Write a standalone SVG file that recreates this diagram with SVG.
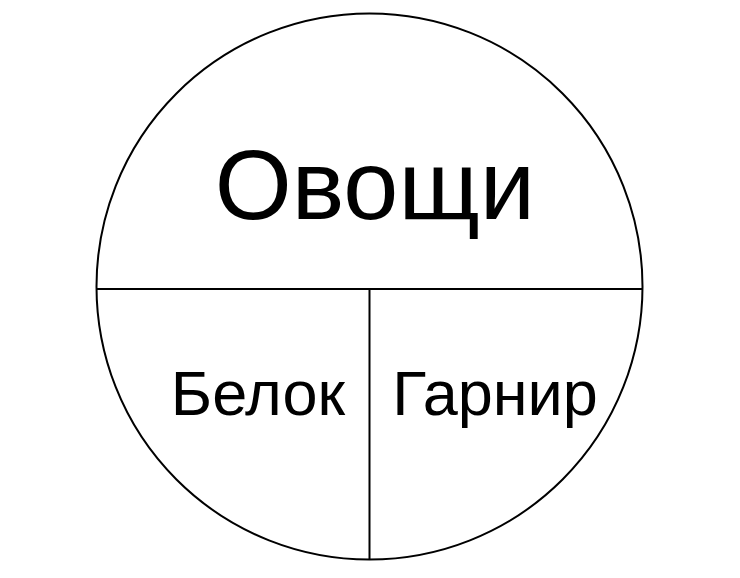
<svg xmlns="http://www.w3.org/2000/svg" width="740" height="578" viewBox="0 0 740 578">
<style>
.ln{fill:none;stroke:#000;stroke-width:2}
.t{font-family:"Liberation Sans",Arial,sans-serif;fill:#000}
</style>
<rect width="740" height="578" fill="#fff"/>
<g id="plate">
<circle class="ln" cx="369.5" cy="286.5" r="273"/>
</g>
<g id="connectors">
<line class="ln" x1="97" y1="289" x2="642" y2="289"/>
<line class="ln" x1="369.5" y1="289" x2="369.5" y2="559.5"/>
</g>
<g id="vegetables"><text class="t" x="375" y="219" font-size="99" text-anchor="middle">Овощи</text></g>
<g id="protein"><text class="t" x="258" y="415" font-size="63" text-anchor="middle">Белок</text></g>
<g id="side"><text class="t" x="495" y="415" font-size="63" text-anchor="middle">Гарнир</text></g>
</svg>
